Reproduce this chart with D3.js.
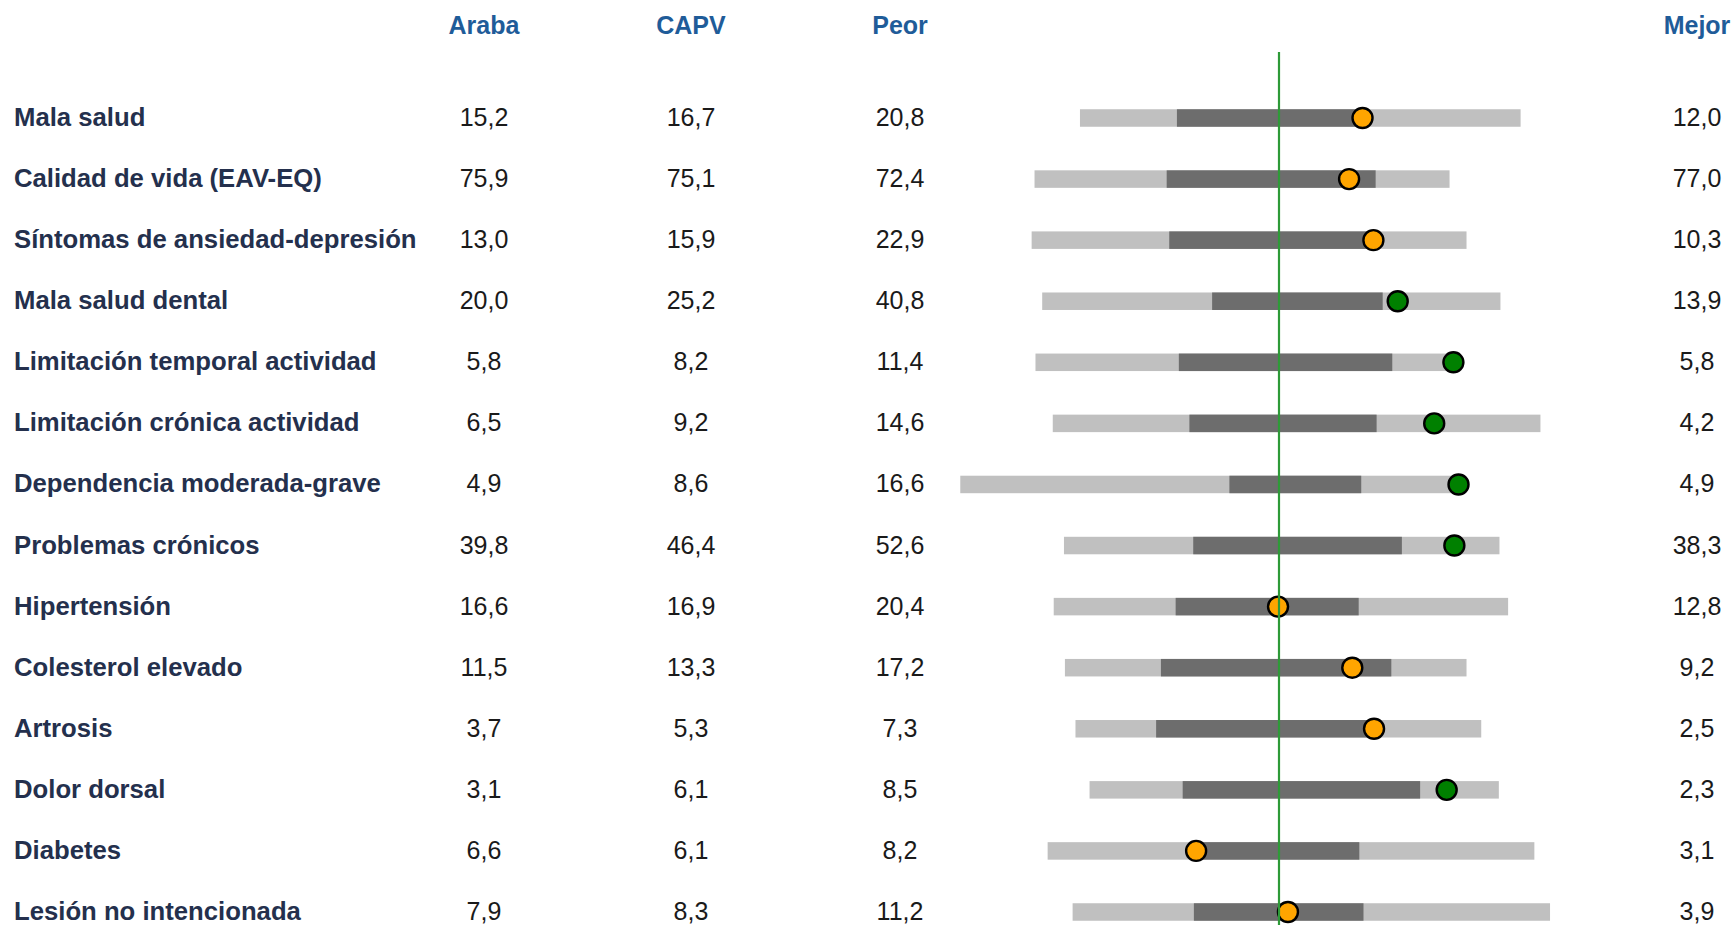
<!DOCTYPE html>
<html>
<head>
<meta charset="utf-8">
<script src="https://cdn.jsdelivr.net/npm/d3@7"></script>
<style>
  html, body { margin: 0; padding: 0; background: #ffffff; }
  svg { display: block; }
</style>
</head>
<body>
<svg id="chart" width="1733" height="925"></svg>
<script>
// ---- data ----
const categories = [
  "Mala salud", "Calidad de vida (EAV-EQ)", "Síntomas de ansiedad-depresión",
  "Mala salud dental", "Limitación temporal actividad", "Limitación crónica actividad",
  "Dependencia moderada-grave", "Problemas crónicos", "Hipertensión",
  "Colesterol elevado", "Artrosis", "Dolor dorsal", "Diabetes", "Lesión no intencionada"
];
const columnHeaders = ["Araba", "CAPV", "Peor", "Mejor"];
const araba = ["15,2","75,9","13,0","20,0","5,8","6,5","4,9","39,8","16,6","11,5","3,7","3,1","6,6","7,9"];
const capv  = ["16,7","75,1","15,9","25,2","8,2","9,2","8,6","46,4","16,9","13,3","5,3","6,1","6,1","8,3"];
const peor  = ["20,8","72,4","22,9","40,8","11,4","14,6","16,6","52,6","20,4","17,2","7,3","8,5","8,2","11,2"];
const mejor = ["12,0","77,0","10,3","13,9","5,8","4,2","4,9","38,3","12,8","9,2","2,5","2,3","3,1","3,9"];

// spine positions, standardised (CAPV = 0)
const rangeLow  = [-0.622,-0.764,-0.773,-0.740,-0.761,-0.707,-0.996,-0.672,-0.704,-0.669,-0.636,-0.592,-0.723,-0.645];
const q1        = [-0.319,-0.351,-0.343,-0.209,-0.313,-0.280,-0.155,-0.268,-0.323,-0.369,-0.384,-0.301,-0.272,-0.266];
const q3        = [ 0.275, 0.302, 0.306, 0.324, 0.354, 0.305, 0.257, 0.384, 0.249, 0.351, 0.309, 0.441, 0.251, 0.264];
const rangeHigh = [ 0.755, 0.533, 0.586, 0.692, 0.545, 0.817, 0.561, 0.689, 0.716, 0.586, 0.632, 0.687, 0.798, 0.847];
const arabaPos  = [ 0.261, 0.219, 0.295, 0.371, 0.545, 0.485, 0.561, 0.548,-0.003, 0.229, 0.297, 0.524,-0.259, 0.028];
// true = significantly better (green), false = no significant difference (orange)
const significant = [false,false,false,true,true,true,true,true,false,false,false,true,false,false];

// ---- layout ----
const svg = d3.select("#chart");
const FONT = "'Liberation Sans', Arial, Helvetica, sans-serif";
const rows = categories.map((c, i) => ({
  cat: c, araba: araba[i], capv: capv[i], peor: peor[i], mejor: mejor[i],
  lo: rangeLow[i], q1: q1[i], q3: q3[i], hi: rangeHigh[i], pos: arabaPos[i], sig: significant[i]
}));

const y = d3.scalePoint().domain(categories).range([118, 912]);
const x = d3.scaleLinear().domain([-1, 1]).range([959, 1599]);
const barH = 17.5;
const baseOff = 8;

const colX = { "Araba": 484, "CAPV": 691, "Peor": 900, "Mejor": 1697 };

// headers
svg.append("g").selectAll("text").data(columnHeaders).join("text")
  .attr("x", d => colX[d]).attr("y", 33.5)
  .attr("text-anchor", "middle")
  .attr("font-family", FONT).attr("font-weight", "bold").attr("font-size", 25)
  .attr("fill", "#1f5c99")
  .text(d => d);

// row labels
svg.append("g").selectAll("text").data(rows).join("text")
  .attr("x", 14).attr("y", d => y(d.cat) + baseOff)
  .attr("font-family", FONT).attr("font-weight", "bold").attr("font-size", 25.7)
  .attr("fill", "#24304d")
  .text(d => d.cat);

// numeric columns
const numCols = [["Araba","araba"],["CAPV","capv"],["Peor","peor"],["Mejor","mejor"]];
numCols.forEach(([h, key]) => {
  svg.append("g").selectAll("text").data(rows).join("text")
    .attr("x", colX[h]).attr("y", d => y(d.cat) + baseOff)
    .attr("text-anchor", "middle")
    .attr("font-family", FONT).attr("font-size", 25)
    .attr("fill", "#1a1a1a")
    .text(d => d[key]);
});

// light range bars
svg.append("g").selectAll("rect").data(rows).join("rect")
  .attr("x", d => x(d.lo)).attr("width", d => x(d.hi) - x(d.lo))
  .attr("y", d => y(d.cat) - barH / 2).attr("height", barH)
  .attr("fill", "#c0c0c0");

// dark interquartile bars
svg.append("g").selectAll("rect").data(rows).join("rect")
  .attr("x", d => x(d.q1)).attr("width", d => x(d.q3) - x(d.q1))
  .attr("y", d => y(d.cat) - barH / 2).attr("height", barH)
  .attr("fill", "#6d6d6d");

// dots
svg.append("g").selectAll("circle").data(rows).join("circle")
  .attr("cx", d => x(d.pos)).attr("cy", d => y(d.cat))
  .attr("r", 10)
  .attr("fill", d => d.sig ? "#008000" : "#ffa500")
  .attr("stroke", "#000").attr("stroke-width", 2.4);

// CAPV reference line
svg.append("line")
  .attr("x1", x(0)).attr("x2", x(0))
  .attr("y1", 52).attr("y2", 925)
  .attr("stroke", "#2e9a38").attr("stroke-width", 2.2);
</script>
</body>
</html>
